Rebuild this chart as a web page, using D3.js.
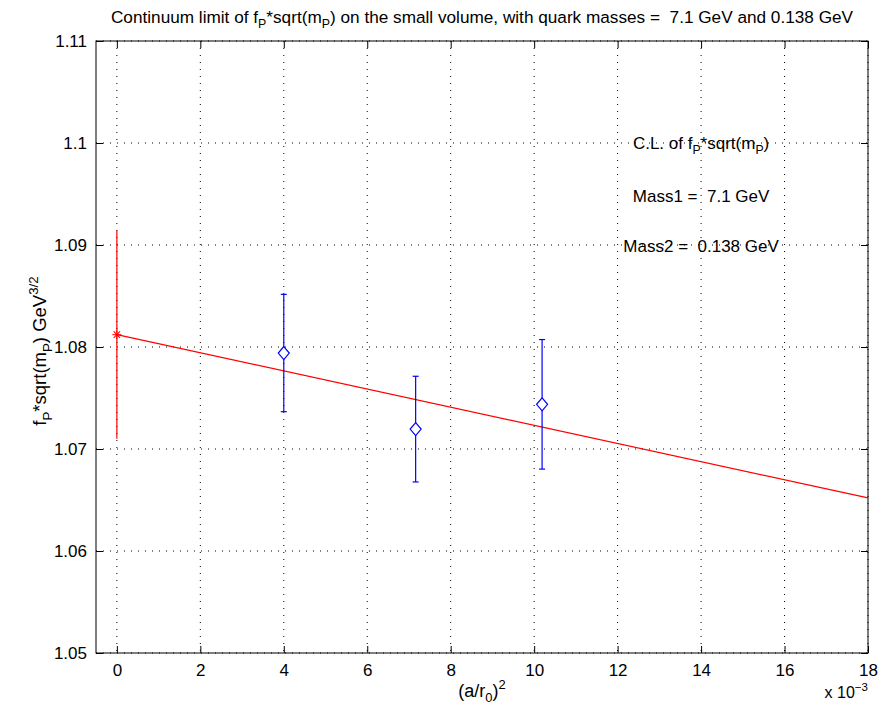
<!DOCTYPE html>
<html>
<head>
<meta charset="utf-8">
<script src="https://cdn.jsdelivr.net/npm/d3@7"></script>
<style>
  body { margin: 0; background: #fff; }
  svg { display: block; font-family: "Liberation Sans", Arial, Helvetica, sans-serif; }
  text { white-space: pre; }
</style>
</head>
<body>
<div id="chart"></div>
<script>
// Lattice points: (a/r0)^2 against f_P*sqrt(m_P), with their errors.
const latticeX = [0.0040, 0.00716, 0.01019];
const latticeY = [1.07941, 1.07195, 1.07438];
const latticeErr = [0.00575, 0.00518, 0.00635];

// Continuum limit value at a = 0 and the linear fit through it.
const limitX = [0];
const limitY = [1.08121];
const limitErr = [0.0102];
const fitX = [0, 0.018];
const fitY = [1.08121, 1.06520];

const xTicks = [0, 2, 4, 6, 8, 10, 12, 14, 16, 18];
const yTicks = [1.05, 1.06, 1.07, 1.08, 1.09, 1.10, 1.11];

const WIDTH = 892, HEIGHT = 714;
const margin = { top: 41, right: 24, bottom: 61, left: 96 };
const plotW = WIDTH - margin.left - margin.right;
const plotH = HEIGHT - margin.top - margin.bottom;

const svg = d3.select("#chart")
    .append("svg")
    .attr("width", WIDTH)
    .attr("height", HEIGHT);

const x = d3.scaleLinear().domain([-0.0005, 0.018]).range([0, plotW]);
const y = d3.scaleLinear().domain([1.05, 1.11]).range([plotH, 0]);

const g = svg.append("g")
    .attr("transform", `translate(${margin.left},${margin.top})`);

// Dotted grid, MATLAB style.
g.selectAll(".vgrid")
    .data(xTicks)
    .join("line")
    .attr("x1", d => x(d / 1000)).attr("x2", d => x(d / 1000))
    .attr("y1", 0).attr("y2", plotH)
    .attr("stroke", "#000")
    .attr("stroke-width", 1)
    .attr("stroke-dasharray", "1,6");

g.selectAll(".hgrid")
    .data(yTicks)
    .join("line")
    .attr("x1", 0).attr("x2", plotW)
    .attr("y1", d => y(d)).attr("y2", d => y(d))
    .attr("stroke", "#000")
    .attr("stroke-width", 1)
    .attr("stroke-dasharray", "1,6");

// Axes with inward ticks on all four sides.
const tickLen = 7;
const xAxisBottom = d3.axisBottom(x)
    .tickValues(xTicks.map(d => d / 1000))
    .tickFormat(d => d3.format("d")(Math.round(d * 1000)))
    .tickSizeInner(-tickLen).tickSizeOuter(0).tickPadding(11);
const xAxisTop = d3.axisTop(x)
    .tickValues(xTicks.map(d => d / 1000))
    .tickFormat("").tickSizeInner(-tickLen).tickSizeOuter(0);
const yAxisLeft = d3.axisLeft(y)
    .tickValues(yTicks)
    .tickFormat(d => String(+d.toFixed(2)))
    .tickSizeInner(-tickLen).tickSizeOuter(0).tickPadding(9);
const yAxisRight = d3.axisRight(y)
    .tickValues(yTicks)
    .tickFormat("").tickSizeInner(-tickLen).tickSizeOuter(0);

const styleAxis = sel => {
    sel.select(".domain").remove();
    sel.selectAll("line").attr("stroke", "#000");
    sel.selectAll("text")
        .attr("fill", "#000")
        .style("font-size", "17px")
        .style("font-family", "\"Liberation Sans\", Arial, sans-serif");
};

g.append("g").attr("transform", `translate(0,${plotH})`).call(xAxisBottom).call(styleAxis);
g.append("g").call(xAxisTop).call(styleAxis);
g.append("g").call(yAxisLeft).call(styleAxis);
g.append("g").attr("transform", `translate(${plotW},0)`).call(yAxisRight).call(styleAxis);

g.append("rect")
    .attr("width", plotW).attr("height", plotH)
    .attr("fill", "none").attr("stroke", "#000").attr("stroke-width", 1);

// Fit line.
const fitData = fitX.map((d, i) => ({ x: d, y: fitY[i] }));
g.append("path")
    .datum(fitData)
    .attr("d", d3.line().x(d => x(d.x)).y(d => y(d.y)))
    .attr("fill", "none")
    .attr("stroke", "#ff0000")
    .attr("stroke-width", 1.2);

// Continuum limit error bar and star marker.
const limitData = limitX.map((d, i) => ({ x: d, y: limitY[i], e: limitErr[i] }));
g.selectAll(".limit-bar")
    .data(limitData)
    .join("line")
    .attr("x1", d => x(d.x)).attr("x2", d => x(d.x))
    .attr("y1", d => y(d.y - d.e)).attr("y2", d => y(d.y + d.e))
    .attr("stroke", "#ff0000").attr("stroke-width", 1.2);

const star = g.selectAll(".limit-star")
    .data(limitData)
    .join("g")
    .attr("transform", d => `translate(${x(d.x)},${y(d.y)})`);
[0, 45, 90, 135].forEach(a => {
    star.append("line")
        .attr("x1", -4.5).attr("x2", 4.5)
        .attr("transform", `rotate(${a})`)
        .attr("stroke", "#ff0000").attr("stroke-width", 1);
});

// Lattice points with capped error bars and diamonds.
const latticeData = latticeX.map((d, i) => ({ x: d, y: latticeY[i], e: latticeErr[i] }));
const pts = g.selectAll(".lattice")
    .data(latticeData)
    .join("g")
    .attr("class", "lattice");

pts.append("line")
    .attr("x1", d => x(d.x)).attr("x2", d => x(d.x))
    .attr("y1", d => y(d.y - d.e)).attr("y2", d => y(d.y + d.e))
    .attr("stroke", "#0000ff").attr("stroke-width", 1.2);
pts.append("line")
    .attr("x1", d => x(d.x) - 3).attr("x2", d => x(d.x) + 3)
    .attr("y1", d => y(d.y - d.e)).attr("y2", d => y(d.y - d.e))
    .attr("stroke", "#0000ff").attr("stroke-width", 1.2);
pts.append("line")
    .attr("x1", d => x(d.x) - 3).attr("x2", d => x(d.x) + 3)
    .attr("y1", d => y(d.y + d.e)).attr("y2", d => y(d.y + d.e))
    .attr("stroke", "#0000ff").attr("stroke-width", 1.2);
pts.append("path")
    .attr("transform", d => `translate(${x(d.x)},${y(d.y)})`)
    .attr("d", "M0,-6.5L5.5,0L0,6.5L-5.5,0Z")
    .attr("fill", "#fff")
    .attr("stroke", "#0000ff").attr("stroke-width", 1.2);

// Text with sub/superscripts, built from parts.
const richText = (parent, parts, size) => {
    const t = parent.append("text")
        .attr("fill", "#000")
        .style("font-size", `${size}px`);
    let shift = 0;
    parts.forEach(([str, kind]) => {
        const target = kind === "sub" ? size * 0.3 : kind === "sup" ? -size * 0.45 : 0;
        t.append("tspan")
            .attr("dy", target - shift)
            .style("font-size", kind ? `${size * 0.72}px` : null)
            .text(str);
        shift = target;
    });
    return t;
};

richText(svg, [
    ["Continuum limit of f"], ["P", "sub"], ["*sqrt(m"], ["P", "sub"],
    [") on the small volume, with quark masses =  7.1 GeV and 0.138 GeV"]
], 17.2)
    .attr("x", margin.left + plotW / 2).attr("y", 23)
    .attr("text-anchor", "middle");

const noteX = 0.0140;
richText(g, [["C.L. of f"], ["P", "sub"], ["*sqrt(m"], ["P", "sub"], [")"]], 17)
    .attr("x", x(noteX)).attr("y", 108).attr("text-anchor", "middle");
richText(g, [["Mass1 =  7.1 GeV"]], 17)
    .attr("x", x(noteX)).attr("y", 161).attr("text-anchor", "middle");
richText(g, [["Mass2 =  0.138 GeV"]], 17)
    .attr("x", x(noteX)).attr("y", 211).attr("text-anchor", "middle");

// Axis labels.
richText(svg, [["(a/r"], ["0", "sub"], [")"], ["2", "sup"]], 18)
    .attr("x", margin.left + plotW / 2).attr("y", 697)
    .attr("text-anchor", "middle");

richText(svg, [["x 10"], ["\u22123", "sup"]], 16)
    .attr("x", margin.left + plotW).attr("y", 698)
    .attr("text-anchor", "end");

richText(svg, [["f"], ["P", "sub"], ["*sqrt(m"], ["P", "sub"], [") GeV"], ["3/2", "sup"]], 18.5)
    .attr("transform", `translate(46,${margin.top + plotH / 2 + 4}) rotate(-90)`)
    .attr("text-anchor", "middle");
</script>
</body>
</html>
